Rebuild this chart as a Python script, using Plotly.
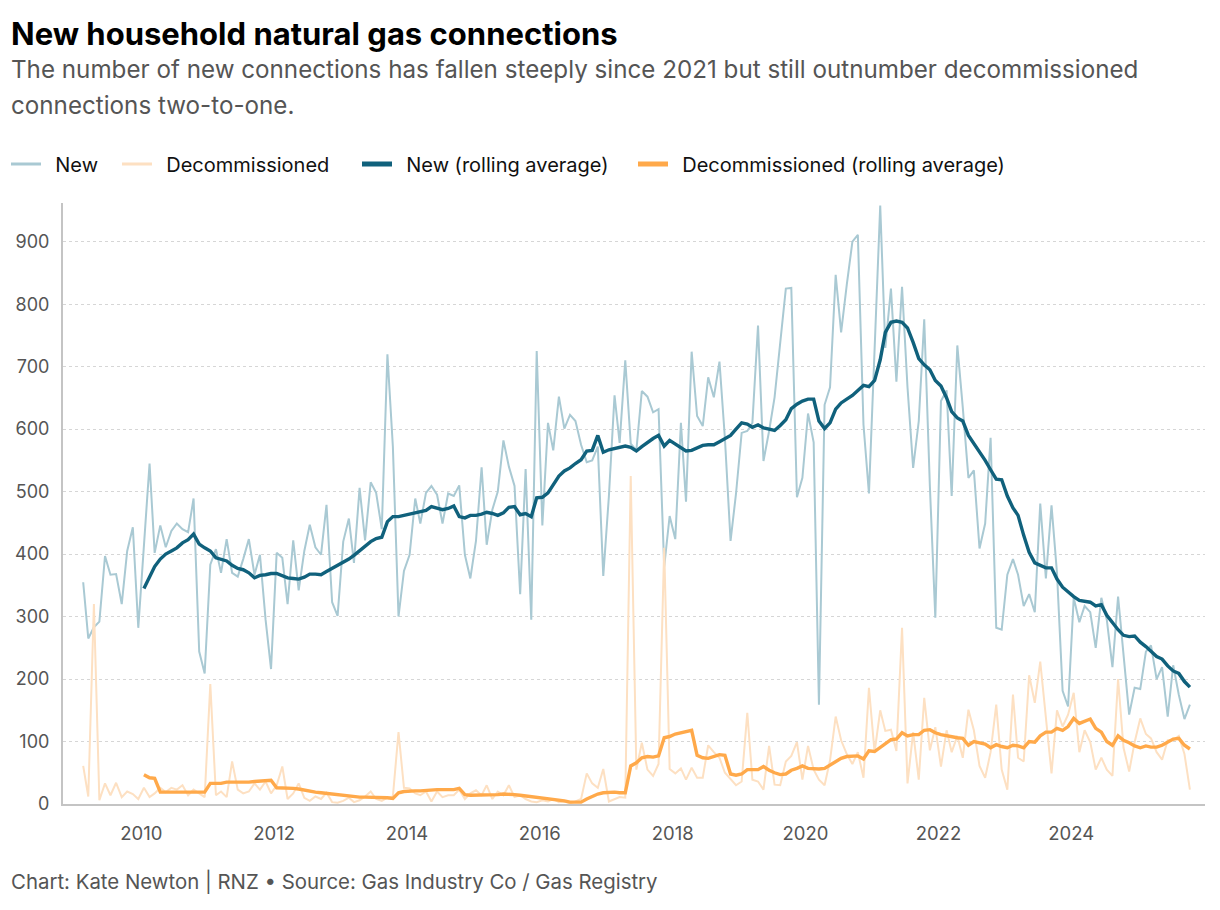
import pandas as pd
import plotly.graph_objects as go

# ---------------- data (monthly, Feb 2009 - Oct 2025) ----------------
months = pd.date_range("2009-02-01", periods=201, freq="MS") + pd.Timedelta(days=14)

new = [
    355, 265, 283, 292, 397, 367, 368, 320, 405, 443, 282, 420,   # Feb09-Jan10
    545, 402, 446, 411, 437, 449, 440, 435, 489, 244, 209, 383,   # Feb10-Jan11
    408, 370, 424, 370, 364, 392, 424, 367, 399, 295, 216, 402,   # Feb11-Jan12
    394, 320, 422, 342, 405, 447, 411, 399, 479, 323, 301, 420,   # Feb12-Jan13
    457, 386, 506, 422, 515, 498, 440, 720, 572, 300, 373, 399,   # Feb13-Jan14
    489, 449, 498, 509, 495, 449, 497, 493, 510, 399, 361, 421,   # Feb14-Jan15
    539, 415, 471, 500, 582, 540, 509, 336, 536, 295, 725, 446,   # Feb15-Jan16
    610, 566, 652, 601, 623, 613, 575, 547, 550, 572, 365, 493,   # Feb16-Jan17
    654, 578, 710, 577, 566, 661, 652, 627, 632, 380, 461, 424,   # Feb17-Jan18
    610, 484, 724, 621, 605, 683, 651, 708, 585, 421, 497, 594,   # Feb18-Jan19
    597, 610, 766, 549, 597, 651, 736, 825, 826, 491, 522, 625,   # Feb19-Jan20
    579, 159, 639, 667, 847, 755, 831, 900, 911, 607, 497, 727,   # Feb20-Jan21
    958, 730, 825, 676, 828, 667, 538, 613, 776, 509, 298, 645,   # Feb21-Jan22
    662, 493, 734, 635, 522, 534, 409, 449, 586, 282, 279, 367,   # Feb22-Jan23
    392, 367, 317, 336, 307, 481, 361, 478, 370, 181, 156, 330,   # Feb23-Jan24
    291, 317, 307, 250, 330, 295, 219, 332, 238, 143, 186, 184,   # Feb24-Jan25
    244, 254, 200, 219, 140, 222, 175, 136, 159,                  # Feb25-Oct25
]

decommissioned = [
    61, 12, 320, 6, 33, 14, 34, 11, 20, 16, 8, 26,
    11, 17, 26, 19, 26, 23, 30, 14, 23, 17, 11, 192,
    14, 20, 11, 68, 23, 17, 20, 33, 23, 36, 17, 30,
    60, 8, 17, 33, 10, 5, 12, 8, 18, 3, 2, 5,
    10, 3, 6, 12, 20, 8, 5, 10, 12, 115, 26, 25,
    17, 14, 20, 4, 20, 11, 14, 14, 23, 8, 17, 22,
    14, 30, 8, 20, 14, 30, 11, 14, 8, 4, 3, 6,
    4, 8, 3, 4, 1, 4, 8, 49, 33, 26, 56, 4,
    8, 11, 10, 525, 55, 98, 55, 45, 64, 410, 56, 49,
    57, 39, 58, 42, 42, 94, 83, 74, 50, 40, 30, 36,
    146, 39, 36, 23, 93, 31, 30, 68, 77, 99, 39, 93,
    55, 39, 30, 70, 140, 102, 80, 64, 83, 42, 186, 83,
    150, 117, 119, 85, 282, 33, 115, 39, 170, 86, 123, 60,
    118, 83, 109, 74, 151, 118, 61, 42, 83, 159, 55, 23,
    175, 74, 68, 206, 162, 228, 143, 49, 150, 124, 143, 178,
    83, 118, 99, 55, 74, 55, 45, 200, 90, 52, 99, 137,
    112, 105, 83, 71, 102, 102, 109, 80, 23,
]

# rolling averages, Jan 2010 - Oct 2025
new_rolling = [
    345, 364, 380, 392, 400, 405, 410, 418, 423, 432, 416, 410,
    405, 394, 391, 389, 382, 377, 375, 370, 362, 366, 367, 369,
    369, 365, 362, 361, 360, 363, 368, 368, 367, 372, 377, 381,
    386, 392, 398, 405, 412, 420, 425, 427, 452, 460, 460, 462,
    463, 466, 468, 470, 476, 474, 471, 473, 477, 460, 458, 462,
    462, 464, 467, 465, 462, 466, 475, 476, 463, 465, 460, 490,
    491, 498, 510, 525, 533, 538, 545, 551, 565, 566, 590, 563,
    567, 569, 570, 573, 571, 565, 572, 579, 585, 590, 573, 582,
    576, 570, 565, 566, 570, 574, 575, 575, 580, 585, 590, 600,
    610, 608, 603, 607, 602, 600, 598, 606, 615, 633, 640, 645,
    648, 648, 613, 601, 610, 632, 642, 648, 654, 662, 670, 668,
    678, 711, 755, 771, 773, 771, 762, 739, 713, 703, 695, 678,
    669, 650, 628, 618, 613, 590, 577, 564, 550, 535, 520, 519,
    493, 474, 462, 430, 403, 386, 382, 378, 378, 360, 347, 339,
    332, 326, 324, 323, 317, 319, 302, 290, 279, 270, 268, 269,
    259, 252, 244, 236, 232, 221, 213, 209, 196, 187,
]

decom_rolling = [
    47, 42, 41, 19, 19, 19, 19, 19, 19, 19, 19, 19,
    33, 33, 33, 35, 35, 35, 34, 35, 36, 37, 38, 38,
    26, 26, 26, 25, 24, 22, 20, 19, 18, 17, 15, 14,
    14, 12, 11, 11, 11, 11, 10, 10, 10, 9, 18, 20,
    21, 21, 21, 22, 22, 23, 23, 23, 23, 25, 15, 14,
    14, 14, 14, 15, 15, 16, 16, 15, 14, 13, 11, 10,
    9, 8, 7, 6, 5, 3, 3, 3, 8, 12, 16, 18,
    19, 19, 18, 18, 61, 66, 74, 76, 75, 77, 106, 108,
    112, 114, 116, 118, 78, 74, 73, 76, 79, 78, 48, 46,
    48, 55, 55, 55, 60, 54, 50, 47, 48, 54, 57, 61,
    57, 56, 56, 57, 62, 68, 73, 76, 77, 77, 72, 85,
    84, 91, 96, 103, 104, 114, 109, 111, 111, 118, 119, 114,
    111, 109, 107, 106, 105, 94, 100, 98, 96, 90, 95, 92,
    90, 94, 93, 90, 100, 99, 109, 115, 115, 121, 118, 124,
    137, 129, 132, 136, 121, 115, 100, 94, 109, 102, 98, 93,
    90, 93, 91, 91, 94, 99, 104, 105, 94, 88,
]
rolling_months = months[11:]

y_ticks = [0, 100, 200, 300, 400, 500, 600, 700, 800, 900]
x_ticks = ["2010", "2012", "2014", "2016", "2018", "2020", "2022", "2024"]

series_names = ["New", "Decommissioned", "New (rolling average)", "Decommissioned (rolling average)"]

title = "New household natural gas connections"
subtitle_1 = "The number of new connections has fallen steeply since 2021 but still outnumber decommissioned"
subtitle_2 = "connections two-to-one."
source = "Chart: Kate Newton | RNZ \u2022 Source: Gas Industry Co / Gas Registry"

# ---------------- styling ----------------
W, H = 1220, 910
ML, MR, MT, MB = 63, 15, 203, 106
FONT = "Inter, 'Open Sans', sans-serif"

C_NEW = "#a9c9d3"
C_DEC = "#fde0c2"
C_NEW_R = "#10617c"
C_DEC_R = "#ffa94a"

colors = [C_NEW, C_DEC, C_NEW_R, C_DEC_R]
plot_widths = [2, 2, 3.4, 3.4]
swatch_widths = [3, 3, 5, 5]
legend_x_px = [6, 117, 357, 633]   # left edge of each legend entry
legend_ids = ["legend", "legend2", "legend3", "legend4"]
PAD = "\u00a0\u2009"                 # extra gap between swatch and label

xs = [months, months, rolling_months, rolling_months]
ys = [new, decommissioned, new_rolling, decom_rolling]

fig = go.Figure()
for i in range(4):
    fig.add_trace(go.Scatter(x=xs[i], y=ys[i], name=series_names[i], mode="lines",
                             line=dict(color=colors[i], width=plot_widths[i]),
                             showlegend=False))
# legend-only entries (thicker swatches, as in the original)
for i in range(4):
    fig.add_trace(go.Scatter(x=[None], y=[None], name=PAD + series_names[i], mode="lines",
                             line=dict(color=colors[i], width=swatch_widths[i]),
                             legend=legend_ids[i], showlegend=True))

plot_h = H - MT - MB


def py(pix):
    return (H - MB - pix) / plot_h


def px(pix):
    return (pix - ML) / (W - ML - MR)


annotations = [
    dict(text=f"<b>{title}</b>", x=px(9), y=py(33), font=dict(size=31, color="#000000")),
    dict(text=subtitle_1, x=px(9), y=py(70), font=dict(size=24.2, color="#555555")),
    dict(text=subtitle_2, x=px(9), y=py(106), font=dict(size=24.2, color="#555555")),
    dict(text=source, x=px(9), y=py(882), font=dict(size=20.4, color="#555555")),
]
for a in annotations:
    a.update(xref="paper", yref="paper", xanchor="left", yanchor="middle", showarrow=False)


def legend_box(xpix):
    return dict(orientation="h", xref="container", yref="container",
                x=xpix / W, y=1 - 164 / H, xanchor="left", yanchor="middle",
                font=dict(size=20, color="#111111"), bgcolor="rgba(0,0,0,0)",
                borderwidth=0)


layout_legends = {lid: legend_box(xp) for lid, xp in zip(legend_ids, legend_x_px)}

fig.update_layout(
    width=W, height=H,
    margin=dict(l=ML, r=MR, t=MT, b=MB, pad=0),
    paper_bgcolor="white", plot_bgcolor="white",
    font=dict(family=FONT, color="#222222"),
    showlegend=True,
    annotations=annotations,
    hovermode=False,
    **layout_legends,
)

fig.update_xaxes(
    type="date",
    range=["2008-10-27", "2026-01-06"],
    tickvals=[f"{y}-01-01" for y in x_ticks], ticktext=x_ticks,
    showgrid=False, zeroline=False,
    showline=True, linecolor="#c4c4c4", linewidth=2,
    ticks="outside", ticklen=12, tickcolor="rgba(0,0,0,0)",
    tickfont=dict(size=18.5, color="#555555"),
)
fig.update_yaxes(
    range=[0, 962],
    tickvals=y_ticks,
    showgrid=True, gridcolor="#d6d6d6", griddash="dot", gridwidth=1,
    zeroline=False,
    showline=True, linecolor="#c4c4c4", linewidth=2,
    ticks="outside", ticklen=8, tickcolor="rgba(0,0,0,0)",
    tickfont=dict(size=18, color="#555555"),
)

fig.write_html("out.html", config={"displayModeBar": False},
               post_script="document.body.style.margin='0';")
